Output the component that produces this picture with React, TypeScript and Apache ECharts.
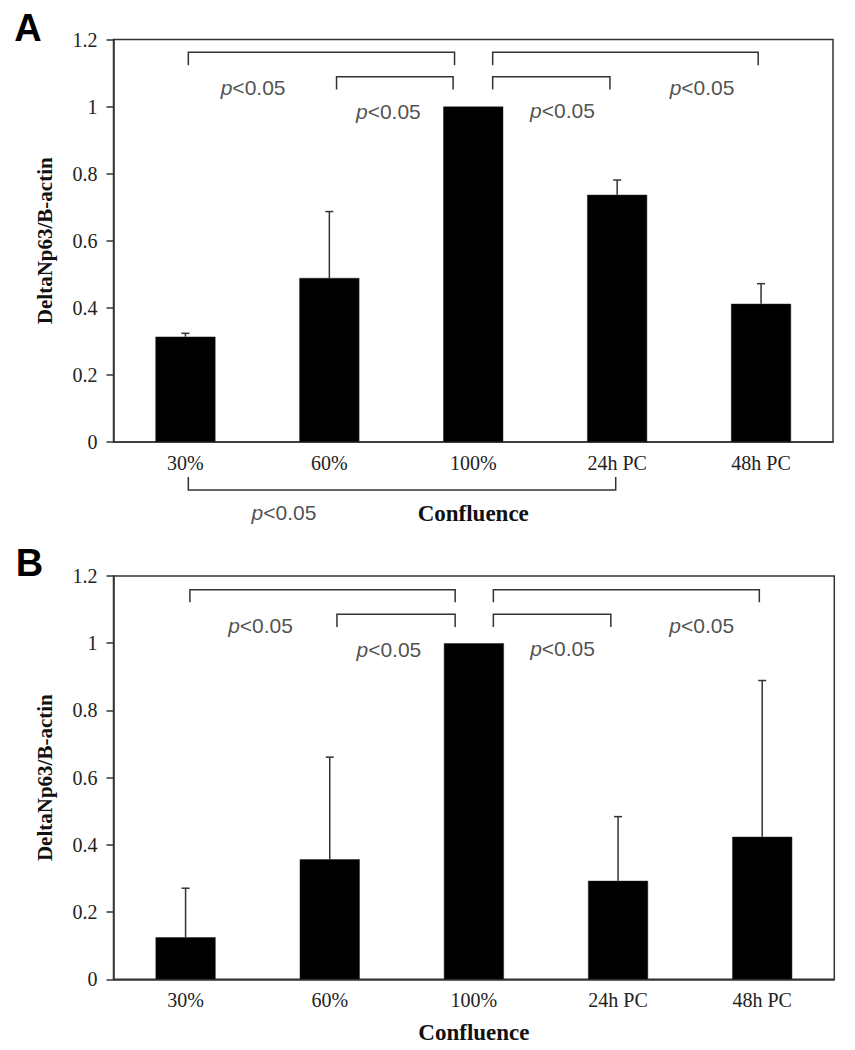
import React, { useEffect, useRef } from "react";
import * as echarts from "echarts";

const categories = ["30%", "60%", "100%", "24h PC", "48h PC"];
const yTicks = [0, 0.2, 0.4, 0.6, 0.8, 1, 1.2];

const meanA = [0.314, 0.489, 1.0, 0.737, 0.412];
const errA = [0.01, 0.198, 0, 0.044, 0.06];
const meanB = [0.125, 0.357, 1.0, 0.293, 0.424];
const errB = [0.146, 0.304, 0, 0.191, 0.465];

// significance brackets: [fromX, toX, barLevel, endLevel]
const bracketsA = [
  [0.02, 1.87, 1.162, 1.123],
  [1.05, 1.86, 1.089, 1.051],
  [2.135, 3.98, 1.162, 1.123],
  [2.135, 2.95, 1.089, 1.051],
  [0.02, 2.99, -0.143, -0.104],
];
const pLabelsA = [
  [0.47, 1.057],
  [1.41, 0.986],
  [2.62, 0.989],
  [3.59, 1.057],
  [0.685, -0.211],
];
const bracketsB = [
  [0.03, 1.87, 1.159, 1.122],
  [1.05, 1.87, 1.086, 1.048],
  [2.135, 3.98, 1.159, 1.122],
  [2.135, 2.95, 1.086, 1.048],
];
const pLabelsB = [
  [0.52, 1.052],
  [1.41, 0.98],
  [2.615, 0.983],
  [3.58, 1.052],
];
const pText = "p<0.05";
const yName = "DeltaNp63/B-actin";
const xName = "Confluence";

const SERIF = "Liberation Serif";
const SANS = "Liberation Sans";
const INK = "#333";

function catAxis(gridIndex: number, nameGap: number) {
  return {
    type: "category",
    gridIndex,
    data: categories,
    name: xName,
    nameLocation: "middle",
    nameGap,
    nameTextStyle: { fontFamily: SERIF, fontWeight: "bold", fontSize: 23, color: "#111" },
    axisLine: { onZero: false, lineStyle: { color: INK, width: 1.5 } },
    axisTick: { show: false },
    axisLabel: { fontFamily: SERIF, fontSize: 20, color: "#222", margin: 11 },
    splitLine: { show: false },
  };
}
function hiddenAxis(gridIndex: number) {
  return { type: "value", gridIndex, min: -0.5, max: 4.5, show: false, splitLine: { show: false } };
}
function valAxis(gridIndex: number) {
  return {
    type: "value",
    gridIndex,
    min: yTicks[0],
    max: yTicks[yTicks.length - 1],
    interval: yTicks[1] - yTicks[0],
    name: yName,
    nameLocation: "middle",
    nameRotate: 90,
    nameGap: 58,
    nameTextStyle: { fontFamily: SERIF, fontWeight: "bold", fontSize: 21, color: "#111" },
    axisLine: { show: true, onZero: false, lineStyle: { color: INK, width: 1.5 } },
    axisTick: { show: true, length: 7, lineStyle: { color: INK, width: 1.5 } },
    axisLabel: { fontFamily: SERIF, fontSize: 20, color: "#222", margin: 16 },
    splitLine: { show: false },
  };
}

function barSeries(xi: number, yi: number, data: number[]) {
  return {
    type: "bar",
    xAxisIndex: xi,
    yAxisIndex: yi,
    data,
    barWidth: 60,
    itemStyle: { color: "#000", borderColor: "#222", borderWidth: 0.5 },
    silent: true,
  };
}
function errSeries(xi: number, yi: number, mean: number[], err: number[]) {
  return {
    type: "custom",
    xAxisIndex: xi,
    yAxisIndex: yi,
    clip: false,
    silent: true,
    data: mean.map((m, i) => [i, m, err[i]]),
    renderItem: (params: any, api: any) => {
      const e = api.value(2);
      if (!e) return { type: "group", children: [] };
      const base = api.coord([api.value(0), api.value(1)]);
      const top = api.coord([api.value(0), api.value(1) + e]);
      const st = { stroke: INK, lineWidth: 1.5 };
      return {
        type: "group",
        children: [
          { type: "line", shape: { x1: base[0], y1: base[1], x2: top[0], y2: top[1] }, style: st },
          { type: "line", shape: { x1: top[0] - 4, y1: top[1], x2: top[0] + 4, y2: top[1] }, style: st },
        ],
      };
    },
  };
}
function bracketSeries(xi: number, yi: number, br: number[][]) {
  return {
    type: "custom",
    xAxisIndex: xi,
    yAxisIndex: yi,
    clip: false,
    silent: true,
    data: br,
    renderItem: (params: any, api: any) => {
      const x1 = api.value(0), x2 = api.value(1), lv = api.value(2), en = api.value(3);
      const pts = [api.coord([x1, en]), api.coord([x1, lv]), api.coord([x2, lv]), api.coord([x2, en])];
      return { type: "polyline", shape: { points: pts }, style: { stroke: INK, lineWidth: 1.5, fill: "none" } };
    },
  };
}
function labelSeries(xi: number, yi: number, pts: number[][]) {
  return {
    type: "scatter",
    xAxisIndex: xi,
    yAxisIndex: yi,
    clip: false,
    silent: true,
    symbolSize: 0,
    data: pts,
    label: {
      show: true,
      position: "inside",
      formatter: () => "{i|p}{n|" + pText.slice(1) + "}",
      rich: {
        i: { fontFamily: SANS, fontStyle: "italic", fontSize: 21, color: "#222" },
        n: { fontFamily: SANS, fontSize: 21, color: "#222" },
      },
    },
  };
}

export default function App() {
  const ref = useRef<HTMLDivElement>(null);
  useEffect(() => {
    document.body.style.margin = "0";
    const chart = echarts.init(ref.current!, undefined, { renderer: "svg" });
    chart.setOption({
      animation: false,
      backgroundColor: "#fff",
      grid: [
        { left: 113.5, top: 39.5, width: 719.5, height: 402.5, show: true, borderColor: INK, borderWidth: 1.5, backgroundColor: "transparent" },
        { left: 113.5, top: 576, width: 720.8, height: 403.3, show: true, borderColor: INK, borderWidth: 1.5, backgroundColor: "transparent" },
      ],
      xAxis: [catAxis(0, 60), hiddenAxis(0), catAxis(1, 42), hiddenAxis(1)],
      yAxis: [valAxis(0), valAxis(1)],
      graphic: [
        { type: "text", x: 28, y: 28, style: { text: "A", font: "bold 38px " + SANS, fill: "#000", align: "center", verticalAlign: "middle" } },
        { type: "text", x: 29.5, y: 563, style: { text: "B", font: "bold 38px " + SANS, fill: "#000", align: "center", verticalAlign: "middle" } },
      ],
      series: [
        barSeries(0, 0, meanA),
        errSeries(0, 0, meanA, errA),
        bracketSeries(1, 0, bracketsA),
        labelSeries(1, 0, pLabelsA),
        barSeries(2, 1, meanB),
        errSeries(2, 1, meanB, errB),
        bracketSeries(3, 1, bracketsB),
        labelSeries(3, 1, pLabelsB),
      ],
    });
    return () => chart.dispose();
  }, []);
  return <div ref={ref} style={{ width: 855, height: 1050 }} />;
}
